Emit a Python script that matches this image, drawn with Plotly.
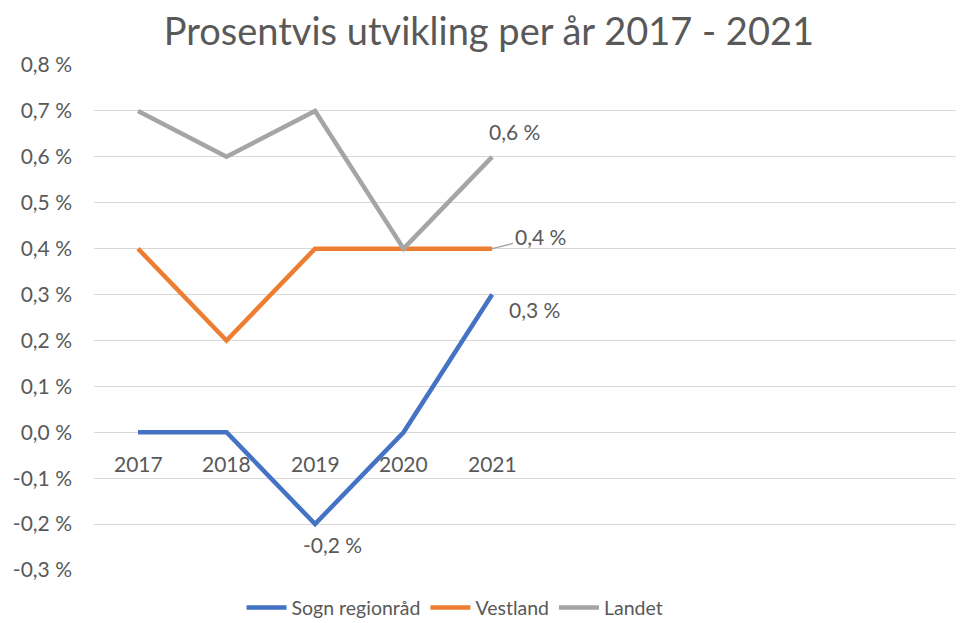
import plotly.graph_objects as go

years = ["2017", "2018", "2019", "2020", "2021"]
sogn = [0.0, 0.0, -0.2, 0.0, 0.3]
vestland = [0.4, 0.2, 0.4, 0.4, 0.4]
landet = [0.7, 0.6, 0.7, 0.4, 0.6]
y_ticks = [-0.3, -0.2, -0.1, 0.0, 0.1, 0.2, 0.3, 0.4, 0.5, 0.6, 0.7, 0.8]

FONT = "Lato"
TXT = "#595959"
FS = 21

x = list(range(len(years)))

fig = go.Figure()
for name, vals, col in [
    ("Sogn regionråd", sogn, "#4472C4"),
    ("Vestland", vestland, "#ED7D31"),
    ("Landet", landet, "#A5A5A5"),
]:
    fig.add_trace(go.Scatter(x=x, y=vals, name=name, mode="lines",
                             line=dict(color=col, width=4.5)))


def pct(v):
    return f"{v:.1f}".replace(".", ",") + " %"


lab = dict(size=FS, color=TXT, family=FONT)

# year labels sit just under the zero line, like in Excel
for i, yr in enumerate(years):
    fig.add_annotation(x=i, y=0, text=yr, showarrow=False, yshift=-31, font=lab)

# data labels
fig.add_annotation(x=4, y=landet[4], text=pct(landet[4]), showarrow=False,
                   xshift=22, yshift=25, font=lab)
fig.add_annotation(x=4, y=vestland[4], text=pct(vestland[4]), showarrow=True,
                   arrowhead=0, arrowwidth=1.5, arrowcolor="#A5A5A5",
                   ax=48, ay=-12, standoff=0, startstandoff=0, font=lab)
fig.add_annotation(x=4, y=sogn[4], text=pct(sogn[4]), showarrow=False,
                   xshift=42, yshift=-15, font=lab)
fig.add_annotation(x=2, y=sogn[2], text=pct(sogn[2]), showarrow=False,
                   xshift=17, yshift=-20, font=lab)

# page body adds 8px margin, so the figure is 8px smaller than the window
fig.update_layout(
    width=956, height=615,
    paper_bgcolor="white", plot_bgcolor="white",
    margin=dict(l=86, r=0, t=57, b=53, autoexpand=False),
    title=dict(text="Prosentvis utvikling per år 2017 - 2021", x=0.503, xanchor="center",
               y=0.962, yanchor="middle", font=dict(size=38, color=TXT, family=FONT)),
    font=dict(family=FONT, color=TXT, size=FS),
    showlegend=True,
    legend=dict(orientation="h", x=0.415, xanchor="center", y=-0.075, yanchor="middle",
                font=dict(size=19.5, color=TXT, family=FONT), itemwidth=40,
                tracegroupgap=0),
    xaxis=dict(range=[-0.497, 9.33], showgrid=False, zeroline=False,
               showticklabels=False, showline=False),
    yaxis=dict(range=[-0.3, 0.8], tickvals=y_ticks, ticktext=[pct(v) for v in y_ticks],
               showgrid=True, gridcolor="#D9D9D9", gridwidth=1.3, zeroline=False,
               ticks="", ticklabelstandoff=21, automargin=False,
               tickfont=lab),
)

fig.write_html("out.html")
